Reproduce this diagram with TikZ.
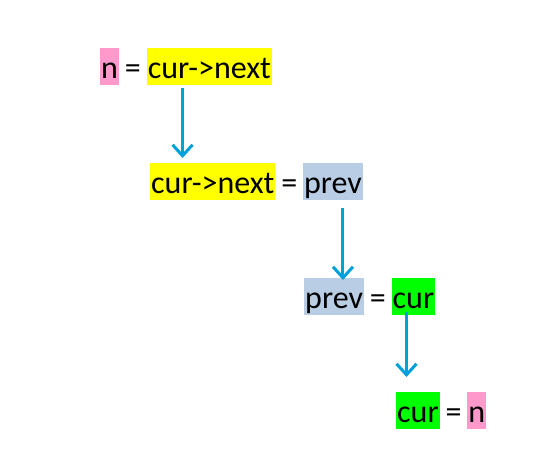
\documentclass[tikz,border=0pt]{standalone}
\usepackage{fontspec}
\setmainfont{Carlito}
\usepackage{xcolor}
\usetikzlibrary{positioning}
\usetikzlibrary{arrows.meta}

\definecolor{hlpink}{HTML}{FF99CC}
\definecolor{hlyellow}{HTML}{FFFF00}
\definecolor{hlblue}{HTML}{B9CDE5}
\definecolor{hlgreen}{HTML}{00FF00}
\definecolor{flowblue}{RGB}{0,160,220}

\begin{document}
\begin{tikzpicture}[x=1pt, y=-1pt]
			\tikzstyle{term} = [inner xsep=1pt, inner ysep=3.5pt, text height=27pt, text depth=3pt, font=\fontsize{32}{38}\selectfont]
			\tikzstyle{eq} = [term, inner xsep=5.5pt]
			\tikzstyle{arrow} = [-{Straight Barb[length=11pt, width=20pt]}, line width=3pt, flowblue]
			
			\useasboundingbox (0,0) rectangle (555,465);
			
			% n = cur->next
			\node [term, fill=hlpink, anchor=north west] (n1) at (100,48) {n};
			\node [eq, right=0pt of n1] (e1) {=};
			\node [term, fill=hlyellow, right=0pt of e1] (c1) {cur->next};
			
			% cur->next = prev
			\node [term, fill=hlyellow, anchor=north west] (c2) at (150,163) {cur->next};
			\node [eq, right=0pt of c2] (e2) {=};
			\node [term, fill=hlblue, right=0pt of e2] (p2) {prev};
			
			% prev = cur
			\node [term, fill=hlblue, anchor=north west] (p3) at (304,278) {prev};
			\node [eq, right=0pt of p3] (e3) {=};
			\node [term, fill=hlgreen, right=0pt of e3] (u3) {cur};
			
			% cur = n
			\node [term, fill=hlgreen, anchor=north west] (u4) at (396,392) {cur};
			\node [eq, right=0pt of u4] (e4) {=};
			\node [term, fill=hlpink, right=0pt of e4] (n4) {n};
			
			\draw [arrow, shorten <=3pt, shorten >=5pt] ([xshift=36pt]c1.south west) -- ([xshift=36pt]c1.south west |- c2.north);
			\draw [arrow, shorten <=8pt, shorten >=-2pt] ([xshift=40pt]p2.south west) -- ([xshift=40pt]p2.south west |- p3.north);
			\draw [arrow, shorten <=-3pt, shorten >=15pt] ([xshift=15pt]u3.south west) -- ([xshift=15pt]u3.south west |- u4.north);
\end{tikzpicture}
\end{document}
